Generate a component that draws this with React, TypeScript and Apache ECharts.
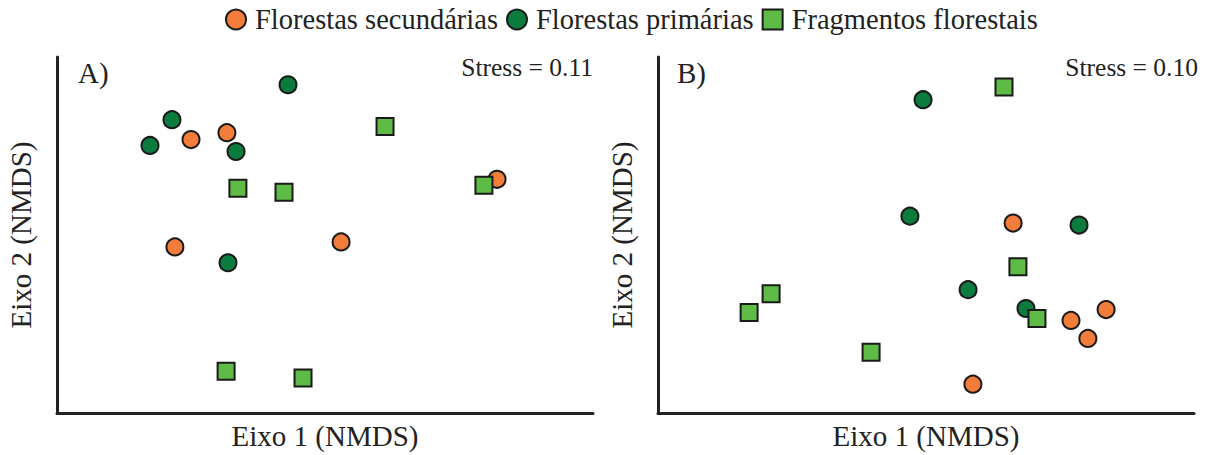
import React, { useEffect, useRef } from "react";
import * as echarts from "echarts";

// NMDS ordination scores
const secA = [[-0.5, 0.536], [-0.366, 0.575], [0.642, 0.313], [-0.56, -0.067], [0.06, -0.039]];
const priA = [[-0.138, 0.844], [-0.571, 0.648], [-0.653, 0.503], [-0.332, 0.469], [-0.362, -0.156]];
const fragA = [[0.224, 0.609], [-0.325, 0.263], [-0.153, 0.24], [0.593, 0.279], [-0.369, -0.765], [-0.082, -0.804]];
const secB = [[0.325, 0.067], [0.541, -0.48], [0.672, -0.419], [0.604, -0.581], [0.175, -0.838]];
const priB = [[-0.011, 0.76], [-0.06, 0.106], [0.571, 0.056], [0.157, -0.307], [0.373, -0.413]];
const fragB = [[0.291, 0.832], [0.343, -0.179], [-0.578, -0.33], [-0.66, -0.436], [0.414, -0.469], [-0.205, -0.659]];

const groupNames = ["Florestas secundárias", "Florestas primárias", "Fragmentos florestais"];
const panelLabels = ["A)", "B)"];
const stressLabels = ["Stress = 0.11", "Stress = 0.10"];
const xAxisName = "Eixo 1 (NMDS)";
const yAxisName = "Eixo 2 (NMDS)";

const FONT = '"Liberation Serif", "Times New Roman", serif';
const INK = "#222222";
const colors = ["#F27D3A", "#0B7B3E", "#5DBB46"];
const symbols = ["circle", "circle", "rect"];

export default function App() {
  const ref = useRef<HTMLDivElement>(null);
  useEffect(() => {
    if (!ref.current) return;
    const chart = echarts.init(ref.current, null, { renderer: "svg" });
    const panels = [
      [secA, priA, fragA],
      [secB, priB, fragB],
    ];
    const axisCommon = {
      type: "value",
      min: -1,
      max: 1,
      axisLine: { show: true, onZero: false, lineStyle: { color: INK, width: 3 } },
      axisTick: { show: false },
      axisLabel: { show: false },
      splitLine: { show: false },
      nameLocation: "middle",
      nameTextStyle: { fontFamily: FONT, fontSize: 29, color: INK },
    };
    const series: any[] = [];
    panels.forEach((groups, p) => {
      groups.forEach((data, g) => {
        series.push({
          type: "scatter",
          name: groupNames[g],
          xAxisIndex: p,
          yAxisIndex: p,
          data,
          symbol: symbols[g],
          symbolSize: 17,
          itemStyle: { color: colors[g], borderColor: "#1a1a1a", borderWidth: 2, opacity: 1 },
          emphasis: { disabled: true },
        });
      });
    });
    chart.setOption({
      animation: false,
      legend: {
        left: 220,
        top: 0,
        itemWidth: 20,
        itemHeight: 20,
        itemGap: 8,
        data: groupNames,
        textStyle: { fontFamily: FONT, fontSize: 28.5, color: INK, padding: [0, 0, 0, 4] },
      },
      grid: [
        { left: 57, right: 620, top: 57, bottom: 40 },
        { left: 658, right: 19, top: 57, bottom: 40 },
      ],
      xAxis: [0, 1].map((i) => ({ ...axisCommon, gridIndex: i, name: xAxisName, nameGap: 8 })),
      yAxis: [0, 1].map((i) => ({ ...axisCommon, gridIndex: i, name: yAxisName, nameGap: 22 })),
      graphic: [
        { type: "text", x: 78, y: 58, style: { text: panelLabels[0], fontFamily: FONT, fontSize: 29, fill: INK, align: "left", verticalAlign: "top" } },
        { type: "text", x: 677, y: 58, style: { text: panelLabels[1], fontFamily: FONT, fontSize: 29, fill: INK, align: "left", verticalAlign: "top" } },
        { type: "text", x: 593, y: 54, style: { text: stressLabels[0], fontFamily: FONT, fontSize: 25.5, fill: INK, align: "right", verticalAlign: "top" } },
        { type: "text", x: 1198, y: 54, style: { text: stressLabels[1], fontFamily: FONT, fontSize: 25.5, fill: INK, align: "right", verticalAlign: "top" } },
      ],
      series,
    });
    return () => chart.dispose();
  }, []);
  return <div ref={ref} style={{ position: "absolute", left: 0, top: 0, width: 1213, height: 455, background: "#fff" }} />;
}
